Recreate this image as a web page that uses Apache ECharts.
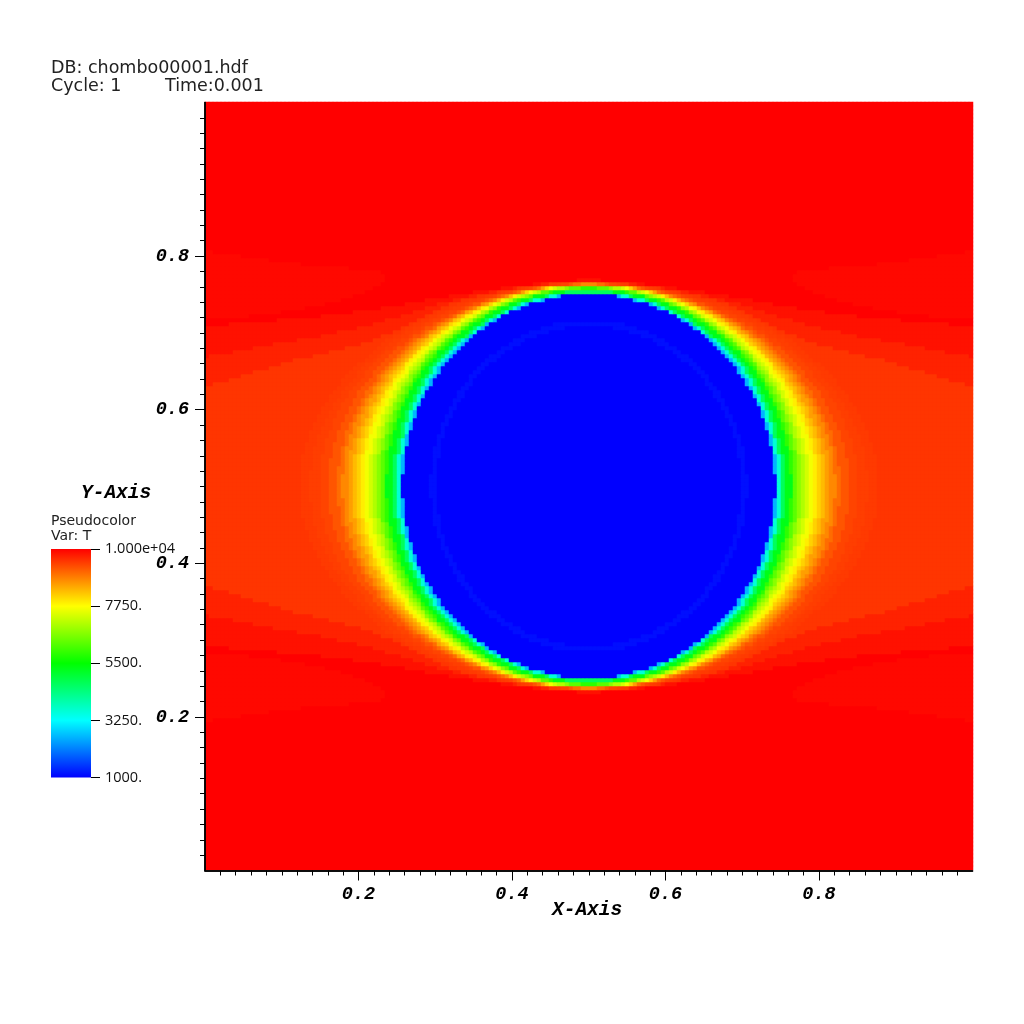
<!DOCTYPE html>
<html><head><meta charset="utf-8">
<style>html,body{margin:0;padding:0;background:#fff}#c{width:1024px;height:1024px}</style>
<script src="https://cdn.jsdelivr.net/npm/echarts@6/dist/echarts.min.js"></script>
</head><body><div id="c"></div>
<script>
const header1 = "DB: chombo00001.hdf";
const header2 = "Cycle: 1";
const header3 = "Time:0.001";
const legendTitle = "Pseudocolor";
const legendVar = "Var: T";
const xTitle = "X-Axis";
const yTitle = "Y-Axis";
const axisTicks = [0.2, 0.4, 0.6, 0.8];
const legendValues = [1000, 3250, 5500, 7750, 10000];
const legendLabels = ["1000.", "3250.", "5500.", "7750.", "1.000e+04"];
const legendColors = ['#0000ff', '#00ffff', '#00ff00', '#ffff00', '#ff0000'];
const cellCount = 192;
const farTemp = 10000;
// temperature of each band, from the centre of the disc outwards
const bandTemps = [1000,1120,1000,2600,3600,4700,5300,5900,6300,6700,7050,7350,7650,7900,8150,8350,8600,8800,9050,9250,9400,9450,9490,9530,9700,9850,10000,9930];
// one line per cell row, going up from the middle of the plot;
// each number is where the next band starts, as distance from x=0.5 in 1/768ths of the axis.
const bandEdges = [
[153,159,187,189,193,197,203,206,210,213,217,221,226,229,233,237,242,247,252,261,270,280,290,400,400,400,400],
[153,159,187,189,193,197,203,206,210,213,217,221,226,229,233,237,242,247,252,261,270,280,290,400,400,400,400],
[153,159,187,189,193,197,203,206,210,213,217,221,226,229,233,237,242,247,252,261,270,280,290,400,400,400,400],
[152,158,186,188,192,196,202,205,209,212,216,220,225,228,232,236,241,246,251,260,269,279,289,400,400,400,400],
[152,158,186,188,192,196,202,205,209,212,216,220,225,228,232,236,241,246,251,260,269,278,288,400,400,400,400],
[152,158,186,187,192,196,202,205,209,212,216,220,225,228,232,236,241,245,250,259,268,278,288,400,400,400,400],
[151,157,185,187,191,195,201,204,208,211,215,219,224,227,231,235,240,245,250,259,268,277,287,400,400,400,400],
[150,156,185,187,191,195,201,204,208,211,215,219,224,227,231,235,240,245,250,258,267,277,287,400,400,400,400],
[149,156,184,186,190,194,200,203,207,210,214,218,223,226,230,234,239,244,249,257,266,276,286,400,400,400,400],
[149,155,183,185,189,193,199,202,206,209,213,217,222,225,229,233,238,243,248,256,265,275,285,400,400,400,400],
[148,154,182,184,188,192,198,201,205,208,212,216,221,224,228,232,237,241,246,255,264,274,284,400,400,400,400],
[147,153,182,184,188,191,197,200,204,207,211,215,220,223,227,231,235,240,245,254,263,272,282,400,400,400,400],
[145,152,181,183,186,190,196,199,203,206,210,214,219,222,225,229,234,239,244,252,261,271,281,400,400,400,400],
[144,150,179,182,185,189,195,198,202,205,209,213,218,221,224,228,233,238,243,251,260,269,279,400,400,400,400],
[143,149,178,180,184,188,194,197,201,204,207,211,216,219,223,227,231,236,241,249,258,268,278,400,400,400,400],
[141,147,177,179,183,187,193,196,200,203,206,210,215,218,222,226,230,235,240,248,257,266,276,400,400,400,400],
[139,146,176,178,182,186,191,194,198,201,205,209,213,216,220,224,228,233,238,246,255,264,274,400,400,400,400],
[138,144,174,177,180,184,190,193,197,200,203,207,212,215,218,222,227,231,236,244,253,262,272,400,400,400,400],
[136,142,173,175,179,183,188,191,195,198,202,206,210,213,217,221,225,229,234,242,251,260,270,400,400,400,400],
[134,140,171,173,177,181,187,190,193,196,200,204,208,211,215,219,223,227,232,240,249,258,267,400,400,400,400],
[131,138,169,172,175,179,185,188,192,195,198,202,206,209,213,217,221,225,230,238,247,256,265,400,400,400,400],
[129,136,167,170,174,178,183,186,190,193,196,200,204,207,210,214,219,223,228,236,244,253,262,400,400,400,400],
[126,134,165,168,172,176,181,184,188,191,194,198,202,205,208,212,217,221,226,234,242,250,259,400,400,400,400],
[124,131,163,166,170,174,179,182,186,189,192,196,200,203,206,210,214,218,223,231,239,247,256,400,400,400,400],
[121,128,161,164,168,172,177,180,184,187,190,194,198,201,204,208,212,216,220,228,236,244,253,400,400,400,400],
[118,125,158,161,165,170,175,178,181,184,187,191,195,198,201,205,209,213,217,225,233,241,250,375,400,400,400],
[115,122,156,159,163,167,172,175,178,181,185,188,192,195,198,202,206,210,214,222,230,238,247,362,400,400,400],
[111,119,153,156,160,165,170,173,176,179,182,185,189,192,195,199,203,207,211,218,226,234,243,350,400,400,400],
[107,116,150,154,158,162,167,170,173,176,179,182,186,189,192,196,200,204,208,215,223,231,239,336,400,400,400],
[103,112,148,151,155,159,164,167,170,173,176,179,183,186,189,192,196,200,204,211,219,227,235,322,400,400,400],
[99,108,144,148,152,156,161,164,167,170,173,176,180,183,186,189,193,197,201,208,215,223,231,308,400,400,400],
[94,104,141,144,149,153,158,161,164,166,169,172,176,179,182,185,189,193,197,204,211,218,226,296,400,400,400],
[89,99,138,141,145,150,154,157,160,163,166,169,172,175,178,181,185,189,193,200,207,214,222,278,380,400,400],
[84,94,134,137,141,146,151,154,157,159,162,165,168,171,174,177,181,185,189,196,203,210,217,262,358,400,400],
[77,88,130,133,136,140,146,149,152,154,157,160,164,167,170,173,176,180,184,191,198,205,212,244,338,400,400],
[70,82,126,128,131,135,141,144,147,150,153,156,160,162,165,168,172,176,180,186,193,200,208,230,316,400,400],
[63,76,121,124,127,131,137,140,143,145,148,151,155,158,161,164,167,171,175,181,188,195,203,216,294,400,400],
[53,68,117,119,122,126,132,135,138,141,144,147,150,153,156,159,162,165,169,175,182,189,197,208,270,400,400],
[41,59,112,114,117,121,127,130,133,135,138,141,145,147,150,153,157,160,164,170,176,183,190,198,252,400,400],
[24,49,106,109,112,116,122,125,128,130,133,136,140,142,145,148,151,154,158,164,170,176,183,190,232,395,400],
[0,35,100,103,106,110,116,119,122,124,127,130,134,136,139,141,144,147,151,157,163,169,176,182,216,362,400],
[0,0,94,96,100,104,110,113,116,118,121,124,127,129,132,135,138,141,144,149,155,162,169,174,204,314,400],
[0,0,87,89,93,97,103,106,109,111,114,117,121,123,125,128,131,134,137,142,148,154,160,166,190,270,340],
[0,0,79,82,85,90,96,99,102,104,107,110,113,115,117,120,123,126,129,134,139,145,151,158,178,236,310],
[0,0,70,73,77,81,88,91,94,96,99,102,105,107,109,111,114,117,120,125,130,136,142,150,166,208,285],
[0,0,60,63,67,72,79,82,85,87,90,93,96,98,100,102,105,107,110,115,120,125,131,140,152,186,265],
[0,0,46,50,55,61,68,71,75,77,80,83,86,88,90,92,94,97,100,104,108,113,119,128,136,165,250],
[0,0,27,33,39,46,55,58,62,65,68,71,74,76,78,80,82,84,87,91,95,100,106,112,120,140,235],
[0,0,0,0,0,24,38,42,47,50,53,56,59,61,63,65,67,69,72,76,80,85,90,94,100,115,225],
[0,0,0,0,0,0,0,10,21,26,31,35,39,41,43,45,48,50,53,56,60,65,70,72,78,90,215],
[0,0,0,0,0,0,0,0,0,0,0,0,0,0,0,0,0,9,18,22,27,34,41,42,48,58,210],
[0,0,0,0,0,0,0,0,0,0,0,0,0,0,0,0,0,0,0,0,0,0,0,0,0,14,205],
[0,0,0,0,0,0,0,0,0,0,0,0,0,0,0,0,0,0,0,0,0,0,0,0,0,0,205],
[0,0,0,0,0,0,0,0,0,0,0,0,0,0,0,0,0,0,0,0,0,0,0,0,0,0,210],
[0,0,0,0,0,0,0,0,0,0,0,0,0,0,0,0,0,0,0,0,0,0,0,0,0,0,240],
[0,0,0,0,0,0,0,0,0,0,0,0,0,0,0,0,0,0,0,0,0,0,0,0,0,0,290],
[0,0,0,0,0,0,0,0,0,0,0,0,0,0,0,0,0,0,0,0,0,0,0,0,0,0,320],
[0,0,0,0,0,0,0,0,0,0,0,0,0,0,0,0,0,0,0,0,0,0,0,0,0,0,350],
[0,0,0,0,0,0,0,0,0,0,0,0,0,0,0,0,0,0,0,0,0,0,0,0,0,0,375]
];

// Unpack the table into heatmap cells; the picture is symmetric about the middle lines.
const cells = [];
const cats = [];
for (let i = 0; i < cellCount; i++) cats.push(i);
for (let r = 0; r < cellCount; r++) {
  const edges = bandEdges[Math.abs(r - (cellCount - 1) / 2) - 0.5];
  for (let c = 0; c < cellCount; c++) {
    const dx = Math.abs(c - (cellCount - 1) / 2) * 4;
    let t = farTemp;
    if (edges) { let b = 0; while (b < edges.length && dx >= edges[b]) b++; t = bandTemps[b]; }
    cells.push([c, r, t]);
  }
}

const labelFont = "'Open Sans'";
const headFont = "'DejaVu Sans'";
const monoBold = "italic bold 19.5px 'Liberation Mono'";
const tickFont = {fontFamily: "'Liberation Mono'", fontWeight: 'bold', fontStyle: 'italic', fontSize: 18.5, color: '#000'};
const hidden = {show: false};
const frameLine = {lineStyle: {color: '#000', width: 1.5}};
const tick = {show: true, length: 10, lineStyle: {color: '#000', width: 1}, customValues: axisTicks};
const minor = {show: true, splitNumber: 10, length: 5, lineStyle: {color: '#000', width: 1}};
const chart = echarts.init(document.getElementById('c'), null, {renderer: 'canvas'});
chart.setOption({
  animation: false,
  backgroundColor: '#fff',
  grid: [
    {left: 205, top: 102, width: 768, height: 768},
    {left: 51, top: 549, width: 40, height: 228.5},
    {left: 205, top: 102.5, width: 767.5, height: 768}
  ],
  xAxis: [
    {type: 'category', gridIndex: 0, data: cats, show: false},
    {type: 'category', gridIndex: 1, data: ['T'], show: false},
    {type: 'value', gridIndex: 2, min: 0, max: 1, interval: 0.2, position: 'bottom', z: 5,
     axisLine: frameLine, axisTick: tick, minorTick: minor,
     axisLabel: {show: true, margin: 14, customValues: axisTicks, formatter: v => v.toFixed(1), ...tickFont},
     splitLine: hidden},
    {type: 'value', gridIndex: 2, min: 0, max: 1, position: 'top', z: 5,
     axisLine: frameLine, axisTick: hidden, axisLabel: hidden, splitLine: hidden}
  ],
  yAxis: [
    {type: 'category', gridIndex: 0, data: cats, show: false},
    {type: 'value', gridIndex: 1, min: 1000, max: 10000, position: 'right',
     axisLine: hidden, splitLine: hidden,
     axisTick: {show: true, length: 9, lineStyle: {color: '#000', width: 1}, customValues: legendValues},
     axisLabel: {show: true, margin: 14, customValues: legendValues, fontFamily: labelFont, fontSize: 14.5, color: '#111',
       formatter: v => legendLabels[legendValues.indexOf(v)]}},
    {type: 'value', gridIndex: 2, min: 0, max: 1, interval: 0.2, position: 'left', z: 5,
     axisLine: frameLine, axisTick: tick, minorTick: minor,
     axisLabel: {show: true, margin: 16, padding: [4, 0, 0, 0], customValues: axisTicks, formatter: v => v.toFixed(1), ...tickFont},
     splitLine: hidden},
    {type: 'value', gridIndex: 2, min: 0, max: 1, position: 'right', z: 5,
     axisLine: frameLine, axisTick: hidden, axisLabel: hidden, splitLine: hidden}
  ],
  visualMap: {
    show: false, type: 'continuous', min: 1000, max: 10000, seriesIndex: 0,
    inRange: {color: legendColors}
  },
  series: [{
    type: 'heatmap', xAxisIndex: 0, yAxisIndex: 0, data: cells, progressive: 0,
    itemStyle: {borderWidth: 0}, emphasis: {disabled: true}, silent: true
  }, {
    type: 'bar', xAxisIndex: 1, yAxisIndex: 1, data: [legendValues[legendValues.length - 1]], barWidth: '100%', silent: true,
    itemStyle: {color: new echarts.graphic.LinearGradient(0, 1, 0, 0,
      legendColors.map((c, i) => ({offset: i / (legendColors.length - 1), color: c})))}
  }],
  graphic: [
    {type: 'text', left: 51, top: 59, style: {text: header1, font: "17.5px " + headFont, fill: '#222'}},
    {type: 'text', left: 51, top: 77, style: {text: header2, font: "17.5px " + headFont, fill: '#222'}},
    {type: 'text', left: 165, top: 77, style: {text: header3, font: "17.5px " + headFont, fill: '#222'}},
    {type: 'text', left: 51, top: 514, style: {text: legendTitle, font: "14px " + headFont, fill: '#222'}},
    {type: 'text', left: 51, top: 529, style: {text: legendVar, font: "14px " + headFont, fill: '#222'}},
    {type: 'text', left: 81, top: 483, style: {text: yTitle, font: monoBold, fill: '#000'}},
    {type: 'text', left: 552, top: 900, style: {text: xTitle, font: monoBold, fill: '#000'}}
  ]
});
</script></body></html>
